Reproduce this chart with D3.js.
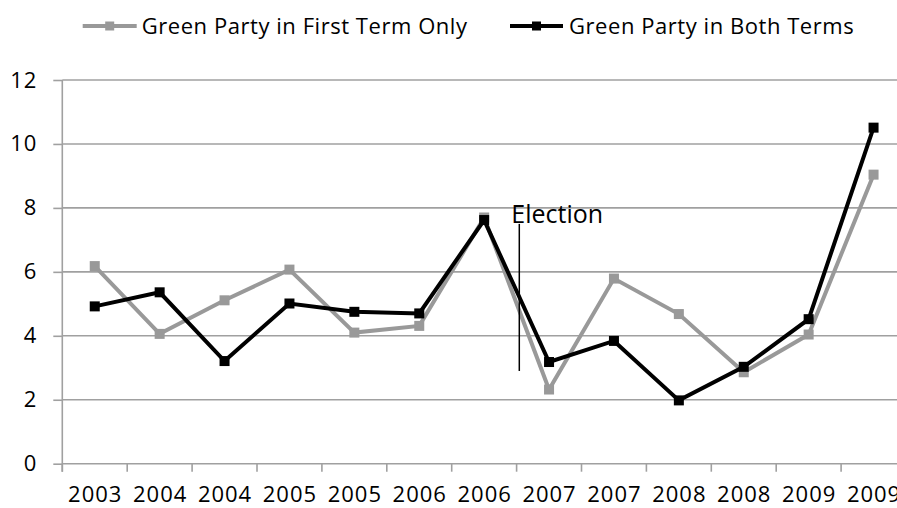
<!DOCTYPE html>
<html>
<head>
<meta charset="utf-8">
<script src="https://cdn.jsdelivr.net/npm/d3@7"></script>
<style>
  html, body { margin: 0; padding: 0; background: #fff; overflow: hidden; }
  svg { display: block; }
  text { font-family: "Open Sans", "Noto Sans", sans-serif; fill: #000; }
</style>
</head>
<body>
<script>
// Period labels (two half-year periods per year)
const categories = ["2003", "2004", "2004", "2005", "2005", "2006", "2006",
                    "2007", "2007", "2008", "2008", "2009", "2009"];

// Series values per period
const firstTermOnly = [6.18, 4.06, 5.11, 6.07, 4.10, 4.31, 7.70, 2.32, 5.79, 4.68, 2.86, 4.04, 9.04];
const bothTerms     = [4.92, 5.36, 3.21, 5.01, 4.75, 4.70, 7.62, 3.18, 3.84, 1.98, 3.03, 4.52, 10.51];

const yTicks = [0, 2, 4, 6, 8, 10, 12];

const seriesNames = ["Green Party in First Term Only", "Green Party in Both Terms"];
const seriesColors = ["#999999", "#000000"];

// Election falls between the 7th and 8th period
const electionAfterIndex = 6;
const electionRange = [2.9, 7.5];

const W = 897, H = 508;
const svg = d3.select("body").append("svg").attr("width", W).attr("height", H);

const plot = { left: 62.3, right: 906, top: 80, bottom: 463.7 };

const x = d3.scaleBand()
  .domain(d3.range(categories.length))
  .range([plot.left, plot.right])
  .paddingInner(0).paddingOuter(0);
const y = d3.scaleLinear().domain([0, 12]).range([plot.bottom, plot.top]);
const cx = i => x(i) + x.bandwidth() / 2;

const axisColor = "#a0a0a0";

// Horizontal gridlines
svg.append("g").selectAll("line").data(yTicks.filter(d => d > 0)).join("line")
  .attr("x1", plot.left).attr("x2", plot.right)
  .attr("y1", d => y(d)).attr("y2", d => y(d))
  .attr("stroke", axisColor).attr("stroke-width", 1.6);

// Y axis
const yAxis = svg.append("g")
  .attr("transform", `translate(${plot.left},0)`)
  .call(d3.axisLeft(y).tickValues(yTicks).tickSize(9).tickPadding(16));
yAxis.select(".domain").remove();
yAxis.selectAll(".tick line").attr("stroke", axisColor).attr("stroke-width", 1.6);
yAxis.selectAll(".tick text")
  .attr("font-size", 22).attr("font-family", "Open Sans").attr("fill", "#000")
  .attr("letter-spacing", "1px");
svg.append("line")
  .attr("x1", plot.left).attr("x2", plot.left)
  .attr("y1", plot.top).attr("y2", plot.bottom + 8)
  .attr("stroke", axisColor).attr("stroke-width", 1.6);

// X axis: baseline, boundary ticks, centred labels
svg.append("line")
  .attr("x1", plot.left).attr("x2", plot.right)
  .attr("y1", plot.bottom).attr("y2", plot.bottom)
  .attr("stroke", axisColor).attr("stroke-width", 1.6);
const boundaries = d3.range(categories.length + 1).map(i => plot.left + i * x.bandwidth());
svg.append("g").selectAll("line").data(boundaries).join("line")
  .attr("x1", d => d).attr("x2", d => d)
  .attr("y1", plot.bottom).attr("y2", plot.bottom + 8)
  .attr("stroke", axisColor).attr("stroke-width", 1.6);
svg.append("g").selectAll("text").data(categories).join("text")
  .attr("x", (d, i) => cx(i) + 0.5)
  .attr("y", 502)
  .attr("text-anchor", "middle")
  .attr("font-size", 22)
  .attr("letter-spacing", "1px")
  .text(d => d);

// Series lines and square markers
const line = d3.line().x((d, i) => cx(i)).y(d => y(d));
[firstTermOnly, bothTerms].forEach((vals, s) => {
  const g = svg.append("g");
  g.append("path").datum(vals)
    .attr("d", line)
    .attr("fill", "none")
    .attr("stroke", seriesColors[s])
    .attr("stroke-width", 4)
    .attr("stroke-linejoin", "miter");
  const m = 10;
  g.selectAll("rect").data(vals).join("rect")
    .attr("x", (d, i) => cx(i) - m / 2)
    .attr("y", d => y(d) - m / 2)
    .attr("width", m).attr("height", m)
    .attr("fill", seriesColors[s]);
});

// Election marker
const ex = x(electionAfterIndex + 1) + 2.7;
svg.append("line")
  .attr("x1", ex).attr("x2", ex)
  .attr("y1", y(electionRange[1])).attr("y2", y(electionRange[0]))
  .attr("stroke", "#000").attr("stroke-width", 1.5);
svg.append("text")
  .attr("x", ex - 8).attr("y", 223)
  .attr("font-size", 25)
  .text("Election");

// Legend
const legendItems = [
  { x1: 82.7, x2: 136.7, tx: 141.7 },
  { x1: 510, x2: 563, tx: 569 }
];
legendItems.forEach((it, s) => {
  const g = svg.append("g");
  g.append("line")
    .attr("x1", it.x1).attr("x2", it.x2).attr("y1", 26).attr("y2", 26)
    .attr("stroke", seriesColors[s]).attr("stroke-width", 4);
  const mx = (it.x1 + it.x2) / 2;
  g.append("rect")
    .attr("x", mx - 4.5).attr("y", 26 - 4.5)
    .attr("width", 9).attr("height", 9)
    .attr("fill", seriesColors[s]);
  g.append("text")
    .attr("x", it.tx).attr("y", 33.5)
    .attr("font-size", 22)
    .attr("letter-spacing", "0.55px")
    .text(seriesNames[s]);
});
</script>
</body>
</html>
